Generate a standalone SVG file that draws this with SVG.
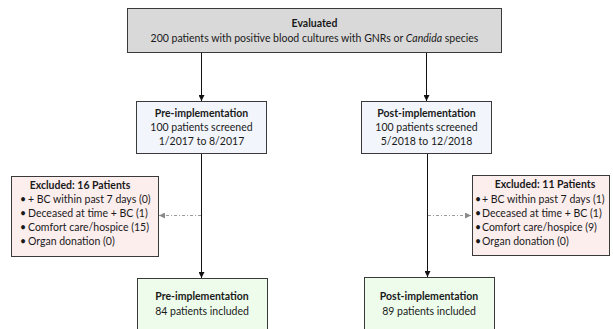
<svg xmlns="http://www.w3.org/2000/svg" width="613" height="329" viewBox="0 0 613 329">
<style>
text{font-family:Lato,"Open Sans","Liberation Sans",sans-serif;font-size:10.5px;fill:#1a1a1a}
.b{font-weight:bold}
.c{text-anchor:middle}
.box{stroke:#3a3a3a;stroke-width:1}
.grey{fill:#d9d9d9}
.blue{fill:#f2f6fc}
.pink{fill:#fdeeee}
.green{fill:#eefcec}
.solid{stroke:#111;stroke-width:1;fill:none;marker-end:url(#ah)}
.dash{stroke:#9a9a9a;stroke-width:1;fill:none;stroke-dasharray:3 2 1 2;marker-end:url(#ahg)}
</style>
<defs>
<marker id="ah" viewBox="0 0 6 6" refX="6" refY="3" markerWidth="6" markerHeight="6" markerUnits="userSpaceOnUse" orient="auto"><path d="M0,0 L6,3 L0,6 z" fill="#111"/></marker>
<marker id="ahg" viewBox="0 0 6 6" refX="6" refY="3" markerWidth="6" markerHeight="6" markerUnits="userSpaceOnUse" orient="auto"><path d="M0,0 L6,3 L0,6 z" fill="#8a8a8a"/></marker>
</defs>
<g id="connectors">
<line class="solid" x1="201.5" y1="53" x2="201.5" y2="101"/>
<line class="solid" x1="426.5" y1="53" x2="426.5" y2="101"/>
<line class="solid" x1="201.5" y1="153" x2="201.5" y2="278"/>
<line class="solid" x1="427.5" y1="153" x2="427.5" y2="277"/>
<line class="dash" x1="201" y1="215.5" x2="159" y2="215.5"/>
<line class="dash" x1="428" y1="215.5" x2="471" y2="215.5"/>
</g>
<g id="evaluated">
<rect class="box grey" x="127.5" y="8.5" width="374" height="44"/>
<text class="b c" x="314.5" y="27">Evaluated</text>
<text class="c" x="314.5" y="42">200 patients with positive blood cultures with GNRs or <tspan font-style="italic">Candida</tspan> species</text>
</g>
<g id="pre">
<rect class="box blue" x="136.5" y="101.5" width="130" height="52"/>
<text class="b c" x="201.5" y="117">Pre-implementation</text>
<text class="c" x="201.5" y="131">100 patients screened</text>
<text class="c" x="201.5" y="145">1/2017 to 8/2017</text>
</g>
<g id="post">
<rect class="box blue" x="361.5" y="101.5" width="130" height="52"/>
<text class="b c" x="426.5" y="117">Post-implementation</text>
<text class="c" x="426.5" y="131">100 patients screened</text>
<text class="c" x="426.5" y="145">5/2018 to 12/2018</text>
</g>
<g id="excluded-pre">
<rect class="box pink" x="11.5" y="176.5" width="147" height="80"/>
<text class="b c" x="80" y="189">Excluded: 16 Patients</text>
<text x="20" y="203">•</text><text x="28" y="203">+ BC within past 7 days (0)</text>
<text x="20" y="217">•</text><text x="28" y="217">Deceased at time + BC (1)</text>
<text x="20" y="231">•</text><text x="28" y="231">Comfort care/hospice (15)</text>
<text x="20" y="245">•</text><text x="28" y="245">Organ donation (0)</text>
</g>
<g id="excluded-post">
<rect class="box pink" x="472.5" y="175.5" width="137" height="80"/>
<text class="b c" x="545" y="188">Excluded: 11 Patients</text>
<text x="475" y="203">•</text><text x="482" y="203">+ BC within past 7 days (1)</text>
<text x="475" y="217">•</text><text x="482" y="217">Deceased at time + BC (1)</text>
<text x="475" y="231">•</text><text x="482" y="231">Comfort care/hospice (9)</text>
<text x="475" y="245">•</text><text x="482" y="245">Organ donation (0)</text>
</g>
<g id="pre-included">
<rect class="box green" x="137.5" y="278.5" width="130" height="60"/>
<text class="b c" x="202" y="300">Pre-implementation</text>
<text class="c" x="202" y="315">84 patients included</text>
</g>
<g id="post-included">
<rect class="box green" x="364.5" y="277.5" width="130" height="60"/>
<text class="b c" x="429" y="300">Post-implementation</text>
<text class="c" x="429" y="315">89 patients included</text>
</g>
</svg>
